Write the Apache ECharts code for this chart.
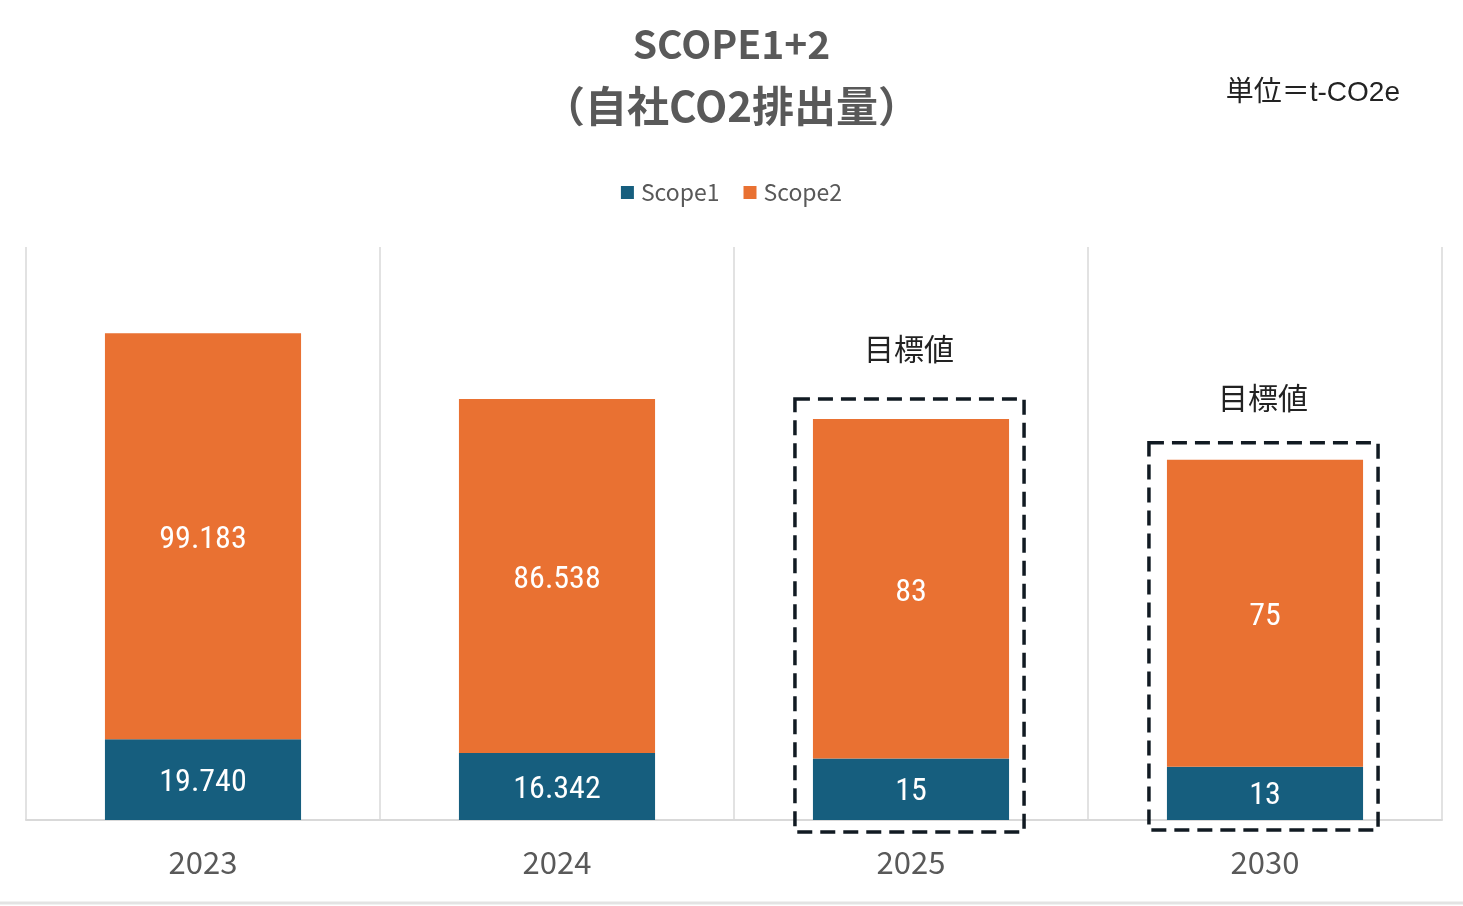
<!DOCTYPE html>
<html>
<head>
<meta charset="utf-8">
<title>SCOPE1+2</title>
<script src="https://cdn.jsdelivr.net/npm/echarts@6/dist/echarts.min.js"></script>
<style>
  html, body { margin: 0; padding: 0; background: #fff; }
  #chart { width: 1463px; height: 906px; }
</style>
</head>
<body>
<div id="chart"></div>
<script>
// chart values
const years = ['2023', '2024', '2025', '2030'];
const scope1 = [19.740, 16.342, 15, 13];
const scope2 = [99.183, 86.538, 83, 75];
const scope1Labels = ['19.740', '16.342', '15', '13'];
const scope2Labels = ['99.183', '86.538', '83', '75'];
const targetYears = ['2025', '2030'];

const FONT = "'Noto Sans CJK JP', 'Noto Sans', sans-serif";
const UNIT_FONT = "'Liberation Sans', 'Noto Sans CJK JP', sans-serif";
const NARROW = "'Liberation Sans Narrow', 'Roboto Condensed', 'Roboto', sans-serif";

const chart = echarts.init(document.getElementById('chart'));

chart.setOption({
  animation: false,
  backgroundColor: '#ffffff',
  title: [{
    text: '{a|SCOPE1+2}\n{b|（自社CO2排出量）}',
    left: 'center',
    top: 8,
    textStyle: {
      rich: {
        a: { color: '#595959', fontFamily: FONT, fontWeight: 'bold', fontSize: 39, lineHeight: 62 },
        b: { color: '#595959', fontFamily: FONT, fontWeight: 'bold', fontSize: 42, lineHeight: 62 }
      }
    }
  }, {
    text: '単位＝t-CO2e',
    right: 58,
    top: 74,
    textStyle: {
      color: '#222222',
      fontFamily: UNIT_FONT,
      fontWeight: 'normal',
      fontSize: 28
    }
  }],
  legend: {
    top: 176,
    left: 'center',
    itemWidth: 13,
    itemHeight: 13,
    itemGap: 24,
    icon: 'rect',
    textStyle: { color: '#595959', fontSize: 23, fontFamily: FONT, padding: [0, 0, 0, 2] },
    data: ['Scope1', 'Scope2']
  },
  grid: { left: 26, right: 21, top: 247, bottom: 86 },
  xAxis: {
    type: 'category',
    data: years,
    axisTick: { show: false },
    axisLine: { lineStyle: { color: '#d9d9d9', width: 2 } },
    splitLine: { show: true, lineStyle: { color: '#d9d9d9', width: 1.5 } },
    axisLabel: {
      color: '#595959',
      fontSize: 31,
      fontFamily: FONT,
      margin: 27
    }
  },
  yAxis: {
    type: 'value',
    min: 0,
    max: 140,
    show: false,
    splitLine: { show: false }
  },
  series: [{
    name: 'Scope1',
    type: 'bar',
    stack: 'total',
    barWidth: '55.4%',
    data: scope1,
    itemStyle: { color: '#165E7E' },
    label: {
      show: true,
      position: 'inside',
      offset: [0, 3],
      color: '#ffffff',
      fontSize: 32,
      fontFamily: NARROW,
      formatter: p => scope1Labels[p.dataIndex]
    }
  }, {
    name: 'Scope2',
    type: 'bar',
    stack: 'total',
    data: scope2,
    itemStyle: { color: '#E97132' },
    label: {
      show: true,
      position: 'inside',
      offset: [0, 4],
      color: '#ffffff',
      fontSize: 32,
      fontFamily: NARROW,
      formatter: p => scope2Labels[p.dataIndex]
    }
  }]
});

// dashed boxes and "目標値" labels around target bars, placed from the axes
function drawTargets() {
  const base = chart.convertToPixel({ xAxisIndex: 0, yAxisIndex: 0 }, [0, 0])[1];
  const p0 = chart.convertToPixel({ xAxisIndex: 0 }, years[0]);
  const p1 = chart.convertToPixel({ xAxisIndex: 0 }, years[1]);
  const band = p1 - p0;
  const barW = band * 0.554;
  const elements = [];
  targetYears.forEach((y, k) => {
    const i = years.indexOf(y);
    const total = scope1[i] + scope2[i];
    const pt = chart.convertToPixel({ xAxisIndex: 0, yAxisIndex: 0 }, [y, total]);
    const cx = pt[0], top = pt[1];
    const padL = 18, padR = 15;
    const padTop = k === 0 ? 20 : 17;
    const padBottom = k === 0 ? 12 : 10;
    elements.push({
      type: 'rect',
      shape: {
        x: cx - barW / 2 - padL,
        y: top - padTop,
        width: barW + padL + padR,
        height: base + padBottom - (top - padTop)
      },
      style: { fill: 'none', stroke: '#111a22', lineWidth: 3.5, lineDash: [15, 8] },
      z: 10
    });
    elements.push({
      type: 'text',
      x: cx - 2,
      y: top - (k === 0 ? 70 : 62),
      style: {
        text: '目標値',
        fill: '#222222',
        fontSize: 30,
        fontFamily: FONT,
        align: 'center',
        verticalAlign: 'middle'
      },
      z: 10
    });
  });
  // light table border under the chart
  elements.push({
    type: 'line',
    shape: { x1: 0, y1: 903, x2: 1463, y2: 903 },
    style: { stroke: '#e3e3e3', lineWidth: 3 }
  });
  chart.setOption({ graphic: elements });
}
drawTargets();
</script>
</body>
</html>
